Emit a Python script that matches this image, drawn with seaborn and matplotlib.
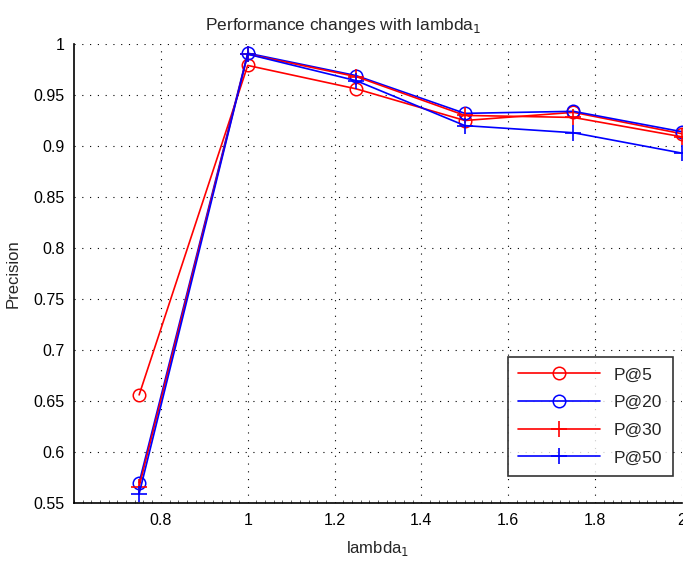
import matplotlib
matplotlib.use("Agg")
import matplotlib.pyplot as plt
import seaborn as sns
import pandas as pd
from matplotlib.ticker import MultipleLocator, FuncFormatter

lambdas = [0.75, 1.0, 1.25, 1.5, 1.75, 2.0]
p5 = [0.656, 0.979, 0.956, 0.925, 0.933, 0.912]
p20 = [0.570, 0.991, 0.969, 0.932, 0.934, 0.914]
p30 = [0.566, 0.990, 0.968, 0.930, 0.928, 0.909]
p50 = [0.559, 0.990, 0.964, 0.920, 0.913, 0.893]
series_names = ["P@5", "P@20", "P@30", "P@50"]
x_ticks = [0.8, 1.0, 1.2, 1.4, 1.6, 1.8, 2.0]
y_ticks = [0.55, 0.6, 0.65, 0.7, 0.75, 0.8, 0.85, 0.9, 0.95, 1.0]

sns.set_style("white")
plt.rcParams['font.family'] = ['Liberation Sans', 'DejaVu Sans']

fig = plt.figure(figsize=(6.83, 5.64), dpi=100)
ax = fig.add_axes([74/683, 61/564, 608/683, 459/564])

styles = [("red", "o"), ("blue", "o"), ("red", "+"), ("blue", "+")]
for name, vals, (c, m) in zip(series_names, [p5, p20, p30, p50], styles):
    df = pd.DataFrame({"lambda": lambdas, "Precision": vals})
    if m == "o":
        sns.lineplot(data=df, x="lambda", y="Precision", ax=ax, color=c, marker="o",
                     markersize=9, markerfacecolor="none", markeredgecolor=c,
                     markeredgewidth=1.1, linewidth=1.2, label=name)
    else:
        sns.lineplot(data=df, x="lambda", y="Precision", ax=ax, color=c, marker="+",
                     markersize=11, markeredgecolor=c, markeredgewidth=1.2,
                     linewidth=1.2, label=name)

ax.set_xlim(0.6, 2.0)
ax.set_ylim(0.55, 1.0)
ax.set_xticks(x_ticks)
ax.set_yticks(y_ticks)
fmt = FuncFormatter(lambda v, p: ("%g" % round(v, 3)))
ax.xaxis.set_major_formatter(fmt)
ax.yaxis.set_major_formatter(fmt)
ax.xaxis.set_minor_locator(MultipleLocator(0.02))
ax.tick_params(axis="both", which="major", direction="in", length=5, width=0.8,
               labelsize=11.5, colors="black", pad=7)
ax.tick_params(axis="x", which="minor", direction="in", length=2, width=0.5, bottom=True)
ax.grid(True, which="major", color="black", linestyle=(0, (1, 6)), linewidth=0.8)
for s in ["top", "right"]:
    ax.spines[s].set_visible(False)
for s in ["left", "bottom"]:
    ax.spines[s].set_color("black")
    ax.spines[s].set_linewidth(1.2)

ax.set_xlabel("lambda$_1$", fontsize=12, labelpad=8)
ax.set_ylabel("Precision", fontsize=12, labelpad=9)
title = ax.set_title("Performance changes with lambda$_1$", fontsize=12.5, pad=10)
title.set_x((343 - 74) / 608)

leg = ax.legend(loc="lower right", bbox_to_anchor=(0.985, 0.059), fontsize=12.5,
                frameon=True, fancybox=False, edgecolor="black", handlelength=4.7,
                borderpad=0.6, labelspacing=0.72, borderaxespad=0.0)
leg.get_frame().set_linewidth(1.2)

fig.savefig("out.png", dpi=100)
